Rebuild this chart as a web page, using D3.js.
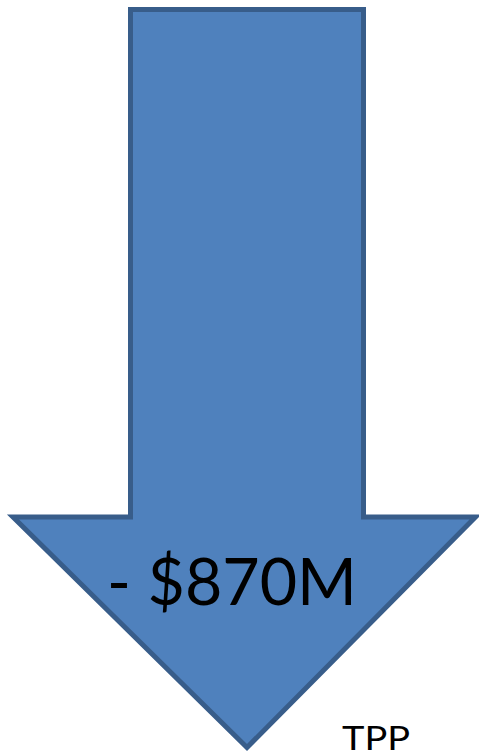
<!DOCTYPE html>
<html><head><meta charset="utf-8">
<script src="https://cdn.jsdelivr.net/npm/d3@7"></script>
<style>html,body{margin:0;padding:0;background:#fff;overflow:hidden}</style>
</head><body>
<svg id="c" width="479" height="756"></svg>
<script>
const values = [-870];
const valueLabels = ["- $870M"];
const captions = ["TPP"];

const svg = d3.select("#c");
// arrow in unit coordinates mapped with scales
const x = d3.scaleLinear().domain([0, 1]).range([13, 475.5]);
const y = d3.scaleLinear().domain([0, 1]).range([9.5, 747.5]);
const shaftL = (130.5 - 13) / 462.5, shaftR = (363.5 - 13) / 462.5, tipX = (247 - 13) / 462.5;
const shoulder = (517 - 9.5) / 738;
const pts = [[shaftL, 0], [shaftR, 0], [shaftR, shoulder], [1, shoulder], [tipX, 1], [0, shoulder], [shaftL, shoulder]];
svg.selectAll("path.arrow").data(values).join("path")
  .attr("class", "arrow")
  .attr("d", d3.line().x(d => x(d[0])).y(d => y(d[1]))(pts) + "Z")
  .attr("fill", "#4F81BD").attr("stroke", "#385D8A").attr("stroke-width", 5)
  .attr("stroke-linejoin", "miter");

svg.selectAll("text.val").data(valueLabels).join("text")
  .attr("class", "val")
  .attr("x", 107).attr("y", 605)
  .attr("font-family", "Lato, 'Open Sans', sans-serif")
  .attr("font-size", 65)
  .attr("textLength", 250).attr("lengthAdjust", "spacingAndGlyphs")
  .attr("fill", "#000").text(d => d);

svg.selectAll("text.cap").data(captions).join("text")
  .attr("class", "cap")
  .attr("x", 342).attr("y", 750)
  .attr("font-family", "Lato, 'Open Sans', sans-serif")
  .attr("font-size", 33)
  .attr("textLength", 68).attr("lengthAdjust", "spacingAndGlyphs")
  .attr("fill", "#000").text(d => d);
</script>
</body></html>
